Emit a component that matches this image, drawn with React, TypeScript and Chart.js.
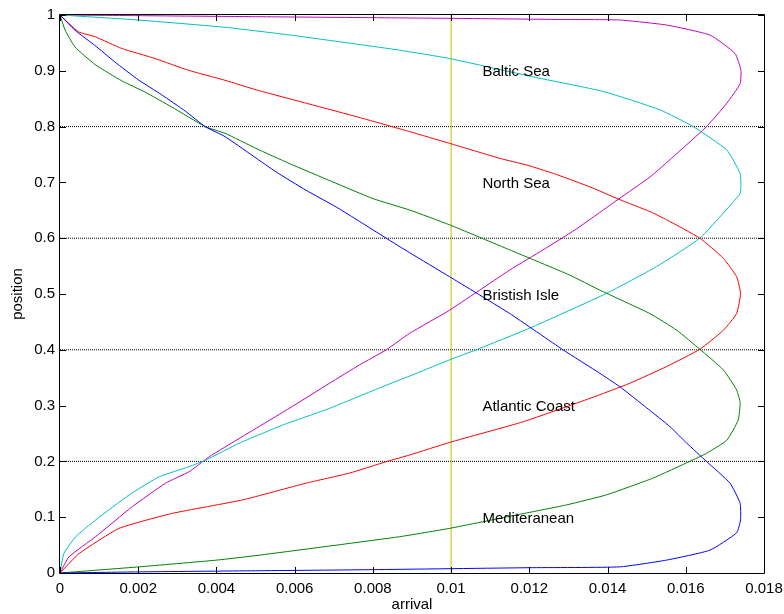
import React, { useEffect, useRef } from 'react';
import { Chart, registerables } from 'chart.js';

Chart.register(...registerables);

// ---- tick values / labels ----
const X_TICKS = [0, 0.002, 0.004, 0.006, 0.008, 0.01, 0.012, 0.014, 0.016, 0.018];
const X_TICK_LABELS = ['0', '0.002', '0.004', '0.006', '0.008', '0.01', '0.012', '0.014', '0.016', '0.018'];
const Y_TICKS = [0, 0.1, 0.2, 0.3, 0.4, 0.5, 0.6, 0.7, 0.8, 0.9, 1];
const Y_TICK_LABELS = ['0', '0.1', '0.2', '0.3', '0.4', '0.5', '0.6', '0.7', '0.8', '0.9', '1'];

// ---- series (arrival x, position y) ----
const BLUE_X = [0, 0.00038, 0.0009, 0.0014, 0.002, 0.0026, 0.0032, 0.00371, 0.00422, 0.00552, 0.00629, 0.00706, 0.00766, 0.00834, 0.00894, 0.00996, 0.0115, 0.01286, 0.0138, 0.01431, 0.0150, 0.0156, 0.01602, 0.01653, 0.01713, 0.01739, 0.0174, 0.0173, 0.01662, 0.0155, 0.01431, 0.012, 0.008, 0.005, 0.002, 0];
const BLUE_Y = [1, 0.973, 0.945, 0.916, 0.884, 0.857, 0.828, 0.800, 0.782, 0.719, 0.686, 0.656, 0.630, 0.600, 0.574, 0.531, 0.465, 0.400, 0.358, 0.334, 0.296, 0.262, 0.233, 0.200, 0.161, 0.125, 0.095, 0.072, 0.041, 0.023, 0.011, 0.0095, 0.006, 0.004, 0.002, 0];

const GREEN_X = [0, 0.00013, 0.00038, 0.0009, 0.00158, 0.00217, 0.00286, 0.00371, 0.00422, 0.00501, 0.00586, 0.00697, 0.008, 0.00894, 0.00996, 0.0115, 0.01303, 0.0138, 0.01508, 0.01577, 0.01636, 0.01696, 0.0173, 0.01739, 0.01734, 0.01705, 0.01653, 0.0161, 0.01516, 0.01397, 0.01295, 0.01167, 0.00996, 0.00868, 0.0051, 0.00399, 0.00202, 0];
const GREEN_Y = [1, 0.973, 0.943, 0.911, 0.882, 0.862, 0.835, 0.800, 0.788, 0.761, 0.734, 0.701, 0.671, 0.6505, 0.624, 0.579, 0.534, 0.507, 0.465, 0.435, 0.401, 0.364, 0.328, 0.305, 0.274, 0.238, 0.2145, 0.200, 0.170, 0.140, 0.122, 0.104, 0.080, 0.065, 0.032, 0.023, 0.011, 0];

const RED_X = [0, 0.00047, 0.0009, 0.00158, 0.00243, 0.00328, 0.00422, 0.00501, 0.00629, 0.00757, 0.00894, 0.00996, 0.01125, 0.01194, 0.01262, 0.01355, 0.01428, 0.01509, 0.01551, 0.01636, 0.01696, 0.0173, 0.0174, 0.0173, 0.01696, 0.01636, 0.01551, 0.01457, 0.01355, 0.01184, 0.00996, 0.00894, 0.00834, 0.0074, 0.00629, 0.00467, 0.00288, 0.00151, 0.00049, 0];
const RED_Y = [1, 0.970, 0.961, 0.940, 0.922, 0.901, 0.883, 0.866, 0.842, 0.818, 0.791, 0.770, 0.743, 0.731, 0.716, 0.692, 0.670, 0.6475, 0.633, 0.600, 0.564, 0.531, 0.501, 0.465, 0.435, 0.401, 0.370, 0.340, 0.313, 0.271, 0.234, 0.2115, 0.1995, 0.179, 0.161, 0.131, 0.107, 0.080, 0.035, 0];

const CYAN_X = [0, 0.002, 0.00422, 0.006, 0.00868, 0.00996, 0.0121, 0.01389, 0.01534, 0.01619, 0.01705, 0.01739, 0.01741, 0.01739, 0.01696, 0.01636, 0.01525, 0.01397, 0.0120, 0.01064, 0.00996, 0.00894, 0.00825, 0.00689, 0.00569, 0.00458, 0.00373, 0.0033, 0.00254, 0.00177, 0.00091, 0.0004, 0.0001, 0];
const CYAN_Y = [1, 0.991, 0.978, 0.963, 0.937, 0.922, 0.889, 0.863, 0.830, 0.800, 0.758, 0.716, 0.695, 0.680, 0.645, 0.600, 0.549, 0.501, 0.4385, 0.400, 0.382, 0.353, 0.334, 0.295, 0.265, 0.2325, 0.2025, 0.1905, 0.1726, 0.140, 0.095, 0.065, 0.035, 0];

const MAGENTA_X = [0, 0.005, 0.01, 0.01278, 0.01431, 0.01551, 0.01662, 0.01726, 0.01741, 0.01739, 0.01705, 0.01653, 0.01568, 0.01509, 0.01428, 0.0138, 0.01317, 0.01235, 0.0115, 0.00996, 0.00894, 0.00834, 0.00766, 0.00689, 0.00586, 0.00458, 0.00382, 0.0033, 0.0027, 0.00185, 0.00091, 0.00023, 0];
const MAGENTA_Y = [1, 0.997, 0.994, 0.992, 0.991, 0.982, 0.964, 0.931, 0.901, 0.877, 0.842, 0.800, 0.746, 0.710, 0.670, 0.646, 0.615, 0.579, 0.543, 0.471, 0.4296, 0.400, 0.373, 0.340, 0.295, 0.241, 0.2085, 0.1815, 0.161, 0.119, 0.065, 0.029, 0];

const REF_LEVELS = [0.2, 0.4, 0.6, 0.8];
const MARKER_X = 0.01;

const REGION_LABELS = ['Baltic Sea', 'North Sea', 'Bristish Isle', 'Atlantic Coast', 'Mediteranean'];
const REGION_LABEL_Y = [0.9, 0.7, 0.5, 0.3, 0.1];
const REGION_LABEL_X = 0.0108;

const FONT = '"Liberation Sans", Arial, Helvetica, sans-serif';

const pts = (xs: number[], ys: number[]) => xs.map((x, i) => ({ x, y: ys[i] }));

const overlayPlugin = {
  id: 'overlay',
  afterDatasetsDraw(chart: any) {
    const { ctx, scales } = chart;
    const xs = scales.x;
    const ys = scales.y;
    ctx.save();
    ctx.fillStyle = '#000';
    ctx.font = `15px ${FONT}`;
    ctx.textAlign = 'left';
    ctx.textBaseline = 'alphabetic';
    REGION_LABELS.forEach((t, i) => {
      ctx.fillText(t, xs.getPixelForValue(REGION_LABEL_X), ys.getPixelForValue(REGION_LABEL_Y[i]) + 5.5);
    });
    ctx.restore();
  },
  afterDraw(chart: any) {
    const { ctx, chartArea, scales } = chart;
    const { left, right, top, bottom } = chartArea;
    ctx.save();
    ctx.strokeStyle = '#000';
    ctx.lineWidth = 1;
    ctx.beginPath();
    ctx.rect(Math.round(left) - 0.5, Math.round(top) - 0.5, Math.round(right) - Math.round(left) + 1, Math.round(bottom) - Math.round(top) + 1);
    ctx.stroke();
    const tl = 6;
    ctx.beginPath();
    X_TICKS.forEach((v) => {
      const px = Math.round(scales.x.getPixelForValue(v)) + 0.5;
      ctx.moveTo(px, bottom);
      ctx.lineTo(px, bottom - tl);
      ctx.moveTo(px, top);
      ctx.lineTo(px, top + tl);
    });
    Y_TICKS.forEach((v) => {
      const py = Math.round(scales.y.getPixelForValue(v)) + 0.5;
      ctx.moveTo(left, py);
      ctx.lineTo(left + tl, py);
      ctx.moveTo(right, py);
      ctx.lineTo(right - tl, py);
    });
    ctx.stroke();
    ctx.restore();
  },
};

export default function App() {
  const ref = useRef<HTMLCanvasElement | null>(null);
  useEffect(() => {
    if (!ref.current) return;
    Chart.defaults.font.family = FONT;
    Chart.defaults.color = '#000';
    const line = (data: any[], color: string, extra: any = {}) => ({
      data,
      borderColor: color,
      backgroundColor: color,
      borderWidth: 1,
      pointRadius: 0,
      pointHoverRadius: 0,
      showLine: true,
      fill: false,
      tension: 0.15,
      ...extra,
    });
    const datasets: any[] = [
      line(pts(BLUE_X, BLUE_Y), '#0000ff'),
      line(pts(GREEN_X, GREEN_Y), '#008000'),
      line(pts(RED_X, RED_Y), '#ff0000'),
      line(pts(CYAN_X, CYAN_Y), '#00bfbf'),
      line(pts(MAGENTA_X, MAGENTA_Y), '#bf00bf'),
      line([{ x: MARKER_X, y: 0 }, { x: MARKER_X, y: 1 }], '#bfbf00', { tension: 0 }),
      ...REF_LEVELS.map((l) => line([{ x: 0, y: l }, { x: 0.018, y: l }], '#000', { borderDash: [1, 1], tension: 0 })),
    ];
    const chart = new Chart(ref.current, {
      type: 'scatter',
      data: { datasets },
      plugins: [overlayPlugin],
      options: {
        animation: false,
        responsive: false,
        maintainAspectRatio: false,
        events: [],
        layout: { padding: { left: 0, right: 20, top: 15, bottom: 0 } },
        plugins: { legend: { display: false }, tooltip: { enabled: false } },
        scales: {
          x: {
            type: 'linear',
            min: 0,
            max: 0.018,
            afterBuildTicks: (s: any) => { s.ticks = X_TICKS.map((v) => ({ value: v })); },
            afterFit: (s: any) => { s.height = 41; s.paddingRight = 0; s.paddingLeft = 0; },
            ticks: {
              autoSkip: false,
              maxRotation: 0,
              padding: 7,
              font: { size: 15, family: FONT },
              color: '#000',
              callback: (v: any) => X_TICK_LABELS[X_TICKS.indexOf(v)],
            },
            grid: { display: false, drawTicks: false },
            border: { display: false },
            title: { display: true, text: 'arrival', font: { size: 15, family: FONT }, color: '#000', padding: 0 },
          },
          y: {
            type: 'linear',
            min: 0,
            max: 1,
            afterBuildTicks: (s: any) => { s.ticks = Y_TICKS.map((v) => ({ value: v })); },
            afterFit: (s: any) => { s.width = 60; s.paddingTop = 0; s.paddingBottom = 0; },
            ticks: {
              autoSkip: false,
              padding: 5,
              font: { size: 15, family: FONT },
              color: '#000',
              callback: (v: any) => Y_TICK_LABELS[Y_TICKS.indexOf(v)],
            },
            grid: { display: false, drawTicks: false },
            border: { display: false },
            title: { display: true, text: 'position', font: { size: 15, family: FONT }, color: '#000', padding: { top: 9, bottom: 9 } },
          },
        },
      } as any,
    });
    return () => chart.destroy();
  }, []);
  return (
    <div style={{ position: 'absolute', left: 0, top: 0, width: 784, height: 614, background: '#fff' }}>
      <canvas ref={ref} width={784} height={614} style={{ display: 'block' }} />
    </div>
  );
}
